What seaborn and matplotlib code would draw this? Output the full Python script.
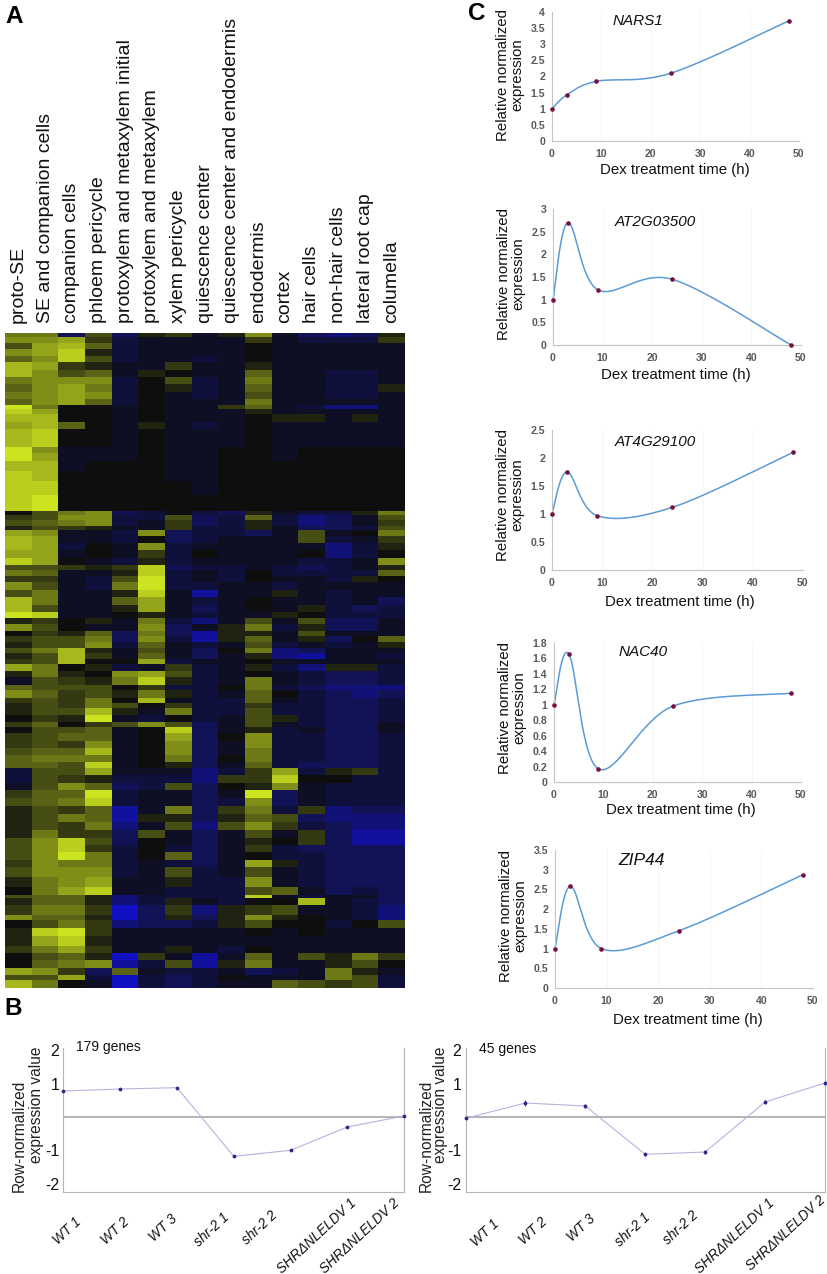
import numpy as np
import pandas as pd
import seaborn as sns
import matplotlib.pyplot as plt
from matplotlib.colors import LinearSegmentedColormap

# panel A: tissue columns, one row per visible band of genes
tissues = ["proto-SE", "SE and companion cells", "companion cells", "phloem pericycle",
           "protoxylem and metaxylem initial", "protoxylem and metaxylem", "xylem pericycle",
           "quiescence center", "quiescence center and endodermis", "endodermis", "cortex",
           "hair cells", "non-hair cells", "lateral root cap", "columella"]

band_genes = [4, 6, 6, 7, 6, 8, 7, 7, 8, 7, 6,
              4, 5, 8, 7, 9, 9, 6, 8, 10, 10, 14, 15,
              4, 5, 6, 4, 6, 7, 7, 8, 7, 5, 6, 6, 8, 7, 8, 7, 6, 6, 7, 5, 6, 6, 5, 6, 5,
              7, 6, 8, 5, 8, 5, 5, 7, 7, 5, 6, 8, 7, 7, 7, 6, 7, 8, 7, 8, 8, 8, 8, 7, 8, 7, 7, 8, 7,
              10, 10, 8, 3, 7, 10, 5, 8, 8, 10, 7, 7, 8, 7, 5, 8]

band_levels = [
    [5, 5, -3, 3, -3, 1, 2, -1, 1, 6, -1, -3, -4, -3, 1],
    [6, 6, 7, 2, -2, -1, -1, -1, -1, 2, -1, -2, -2, -2, 2],
    [3, 7, 8, 4, -2, -1, -1, -1, -1, 0, -1, -1, -1, -1, -1],
    [6, 7, 9, 1, -2, -1, -1, -1, -1, 0, -1, -1, -1, -1, -1],
    [4, 6, 9, 3, -2, -1, -1, -2, -1, 0, -1, -1, -1, -1, -1],
    [8, 7, 2, 1, -1, -1, 2, -1, -1, 1, -1, -1, -1, -1, -1],
    [8, 6, 3, 4, -1, 1, 0, -1, -1, 4, -1, -1, -2, -2, -1],
    [5, 6, 6, 6, -2, 0, 3, -2, -1, 5, -1, -1, -2, -2, -1],
    [4, 6, 7, 5, -2, 0, 1, -2, -1, 4, -1, -1, -2, -2, 1],
    [5, 6, 7, 6, -2, 0, -1, -2, -1, 3, -1, -1, -2, -2, -1],
    [4, 6, 7, 4, -2, 0, -1, -1, -1, 5, -1, -1, -1, -1, -1],
    [10, 5, 0, 0, -1, 0, -1, -1, 2, 4, -1, -2, -4, -4, -1],
    [9, 7, 0, 0, -1, 0, -1, -1, -1, 1, -1, -1, -1, -1, -1],
    [8, 8, 0, 0, -1, 0, -1, -1, -1, 0, 1, 1, -1, 1, -1],
    [7, 8, 4, 0, -1, 1, -1, -2, -1, 0, -1, -1, -1, -1, -1],
    [8, 9, 0, 0, -1, 0, -1, -1, -1, 0, -1, -1, -1, -1, -1],
    [8, 9, 0, 0, -1, 0, -1, -1, -1, 0, -1, -1, -1, -1, -1],
    [10, 6, -1, -1, -1, 0, -1, -1, 0, 0, -1, 0, 0, 0, 0],
    [10, 7, -1, -1, -1, 0, -1, -1, 0, 0, -1, 0, 0, 0, 0],
    [8, 8, -1, 0, 0, 0, -1, -1, 0, 0, 0, 0, 0, 0, 0],
    [9, 8, 0, 0, 0, 0, -1, -1, 0, 0, 0, 0, 0, 0, 0],
    [9, 9, 0, 0, 0, 0, 0, -1, 0, 0, 0, 0, 0, 0, 0],
    [9, 10, 0, 0, 0, 0, 0, 0, 0, 0, 0, 0, 0, 0, 0],
    [0, 3, 5, 6, -3, -2, 0, -2, -3, 1, -1, -2, -2, 1, 5],
    [2, 3, 6, 6, -2, -2, 3, -3, -2, 4, -2, -4, -3, -1, 3],
    [3, 4, 5, 6, -2, -1, 2, -3, -2, 1, -2, -4, -3, -1, 2],
    [1, 3, 2, 1, -1, -1, 2, -2, -2, 1, -1, -3, -3, -2, 3],
    [7, 6, -1, -1, -2, 6, -3, -2, -2, -3, -1, 3, -1, 0, 5],
    [8, 7, -1, -1, -2, 0, -3, -2, -1, -1, -1, 3, -2, -1, 2],
    [8, 7, -2, 0, -1, 6, -2, -1, -1, -1, -1, -1, -4, -2, 1],
    [7, 7, -1, 0, -1, 2, -2, 0, -1, -1, -1, 0, -4, -2, 0],
    [9, 7, 0, -1, -2, 1, -2, -1, -1, -1, -1, -2, -2, -1, 6],
    [3, 3, 2, 1, 2, 9, -3, -2, -2, -1, -2, -3, -2, -1, 1],
    [5, 4, -1, -1, 1, 9, -2, -1, -2, 0, -2, -2, -2, -2, 4],
    [2, 2, -1, -2, 3, 10, -2, -1, -2, 0, -1, -1, -2, 1, 0],
    [6, 3, -1, -2, 5, 10, -2, -2, -1, -1, -2, -1, -1, -1, -1],
    [3, 5, -1, -1, 1, 9, -1, -5, -1, -1, 1, -1, -2, -1, -1],
    [8, 5, -1, -1, 4, 7, -1, -2, -1, 0, -1, -1, -2, -1, -3],
    [8, 3, -1, -1, 1, 7, -1, -3, -1, 0, -1, 1, -2, -3, -2],
    [10, 9, -1, -1, 0, 1, -1, -2, -1, -1, 1, 0, -2, -2, -2],
    [1, 2, 0, 1, -1, 5, -2, -4, -1, 3, -1, 3, -3, -3, -1],
    [6, 3, 0, -1, -1, 6, -3, -1, 1, 5, -2, 1, -3, -3, -1],
    [0, 2, 1, 4, -3, 5, -3, -5, 1, 1, -1, 3, -1, -1, -1],
    [2, 3, 3, 5, -3, 6, -2, -5, 1, 4, -1, 1, -3, 0, 4],
    [1, 3, 3, 6, -2, 4, -1, -2, -1, 3, -2, -1, -2, -1, 1],
    [3, 5, 8, 1, -1, 3, -1, -3, 0, 5, -4, -3, -1, -1, -1],
    [1, 3, 8, 2, -1, 4, -1, -3, -1, 1, -4, -5, -1, -1, -2],
    [2, 3, 8, 0, 0, 7, -2, -1, -1, 0, -1, -1, -1, -1, -1],
    [7, 5, 0, 1, -2, -1, 2, -2, -1, 1, -2, -4, 1, 1, -2],
    [1, 5, 1, 0, 6, 7, 3, -2, -1, 0, -1, -2, -3, -3, -2],
    [-1, 3, 2, 1, 5, 9, 1, -2, -1, 5, -1, -2, -3, -3, -2],
    [4, 3, 3, 3, 0, 2, -2, -2, 0, 5, -2, -3, -4, -4, -4],
    [6, 4, 2, 3, 1, 5, 1, -2, -1, 4, 0, -2, -3, -4, -3],
    [2, 3, 2, 5, 0, 8, -1, -2, -2, 4, -1, -2, -3, -3, -2],
    [1, 3, 2, 5, 3, 0, 2, -2, -2, 2, -2, -2, -3, -3, -2],
    [1, 3, 3, 8, 1, -1, 5, -2, -2, 3, -2, -2, -3, -3, -2],
    [0, 2, 1, 10, -1, -2, 0, -2, -1, 3, 1, -2, -3, -3, -2],
    [2, 4, 0, 2, 3, 6, 3, -3, -1, 3, -1, -2, -3, -3, -1],
    [0, 3, 3, 4, -1, 0, 9, -3, -1, 1, -2, -1, -3, -3, -1],
    [2, 3, 4, 4, -1, 0, 7, -3, 0, 6, -2, -2, -3, -3, -2],
    [2, 3, 2, 6, -1, 0, 6, -3, -1, 6, -2, -2, -3, -3, -2],
    [3, 4, 4, 8, -1, 0, 6, -3, -1, 5, -2, -2, -3, -3, -2],
    [4, 5, 5, 5, -1, 0, 5, -3, 0, 5, -2, -2, -3, -3, -2],
    [4, 4, 3, 9, -1, 0, 1, -3, -1, 4, -2, -3, -3, -3, -2],
    [-2, 3, 3, 7, -1, -1, -1, -4, -2, 2, 7, -2, 1, 2, -2],
    [-2, 3, 2, 1, -2, -2, -2, -4, 2, 2, 9, 0, 0, -2, -2],
    [-1, 3, 6, 4, -3, -2, 3, -3, 0, 1, 6, -1, -2, -2, -2],
    [2, 4, 4, 10, -2, -1, -1, -3, -1, 10, -3, -1, -2, -2, -2],
    [3, 4, 5, 9, -2, -1, -1, -3, -2, 6, -3, -1, -2, -2, -2],
    [1, 3, 2, 4, -5, -1, 5, -3, 2, 5, -2, 2, -4, -3, -3],
    [1, 3, 5, 4, -5, 1, 1, -3, 1, 4, 3, -3, -4, -4, -4],
    [1, 3, 2, 5, -4, -1, 3, -4, 3, 6, 2, -2, -3, -4, -4],
    [1, 5, 2, 2, -3, 3, -1, -3, -1, 3, -1, 2, -3, -5, -5],
    [3, 6, 9, 3, -3, 0, -1, -3, -1, 1, 0, 2, -3, -5, -5],
    [3, 6, 9, 2, -2, 0, -2, -3, -1, 2, -2, -3, -3, -3, -3],
    [3, 6, 10, 5, -2, 0, 4, -3, -1, 0, -2, -2, -3, -3, -3],
    [2, 6, 5, 5, -2, -1, -2, -3, -1, 7, 1, -2, -3, -3, -3],
    [3, 6, 6, 6, -2, -1, 3, -2, -1, 3, -1, -2, -3, -3, -3],
    [1, 5, 6, 7, -1, -1, 1, -2, -2, 6, -1, -2, -3, -3, -3],
    [0, 5, 7, 9, -1, -1, -2, -2, -2, 3, 4, -1, -3, -2, -3],
    [3, 4, 4, 1, -4, -2, -2, -2, -2, 9, -1, -2, -1, -1, -3],
    [1, 4, 4, 1, -4, -2, 1, -1, -2, 0, 0, 8, -1, -2, -3],
    [2, 5, 5, 2, -6, -3, 2, -4, 1, 2, 3, -1, -1, -2, -4],
    [6, 4, 4, 1, -6, -3, 1, -3, 1, 6, 1, 0, -1, -2, -4],
    [0, 3, 5, 2, -4, -3, -3, -2, 1, 3, 0, 0, -2, 0, 3],
    [1, 9, 10, 2, -1, -1, -1, -1, -1, 0, -1, 0, -1, -1, -1],
    [1, 7, 9, 1, -1, -1, -1, -1, -1, -1, -1, -1, -1, -1, -1],
    [2, 5, 7, 2, -1, -1, 1, -1, -2, 0, -1, -1, -1, -1, -1],
    [0, 3, 4, 1, -6, 2, -1, -5, -1, 4, -1, 3, 1, 5, 2],
    [0, 4, 5, 6, -5, -2, 3, -5, 1, 5, -1, -1, 1, 3, 0],
    [7, 6, 2, -3, 4, -1, -2, -2, -1, -3, -2, -1, 5, 1, -1],
    [3, 3, 7, -2, -6, -2, -3, -2, 0, -1, -1, -1, 5, 3, -2],
    [8, 5, 0, -1, -6, -2, -3, -2, -1, -1, 4, 3, 2, 3, -2],
]

# panel B
samples = ["WT 1", "WT 2", "WT 3", "shr-2 1", "shr-2 2", "SHR\u0394NLELDV 1", "SHR\u0394NLELDV 2"]
genes_179 = [0.78, 0.84, 0.88, -1.18, -1.0, -0.3, 0.03]
errors_179 = [0.03, 0.03, 0.03, 0.02, 0.02, 0.03, 0.03]
genes_45 = [-0.04, 0.42, 0.33, -1.12, -1.05, 0.45, 1.02]
errors_45 = [0.07, 0.1, 0.07, 0.05, 0.05, 0.07, 0.1]

# panel C
hours = [0, 3, 9, 24, 48]
nars1 = [1, 1.43, 1.85, 2.1, 3.73]
at2g03500 = [1, 2.7, 1.22, 1.45, 0]
at4g29100 = [1, 1.75, 0.97, 1.12, 2.1]
nac40 = [1, 1.66, 0.17, 0.98, 1.15]
zip44 = [1, 2.58, 1, 1.45, 2.87]

W, H = 827, 1274

sns.set_theme(style="white")
plt.rcParams["font.family"] = "Liberation Sans"

fig = plt.figure(figsize=(W / 100, H / 100), dpi=100)


def px_axes(left, top, right, bottom):
    return fig.add_axes([left / W, 1 - bottom / H, (right - left) / W, (bottom - top) / H])


def px_text(x, y, s, **kw):
    fig.text(x / W, 1 - y / H, s, **kw)


def smooth(xs, ys, n=40):
    # same kind of smoothing a spreadsheet applies to a line chart
    pts = np.column_stack([xs, ys]).astype(float)
    pts = np.vstack([pts[0], pts, pts[-1]])
    out = []
    t = np.linspace(0, 1, n)[:, None]
    for i in range(1, len(pts) - 2):
        p0, p3 = pts[i], pts[i + 1]
        p1 = p0 + (pts[i + 1] - pts[i - 1]) / 6
        p2 = p3 - (pts[i + 2] - pts[i]) / 6
        out.append((1 - t) ** 3 * p0 + 3 * (1 - t) ** 2 * t * p1 + 3 * (1 - t) * t ** 2 * p2 + t ** 3 * p3)
    return np.vstack(out)


# A - heatmap
heat_cmap = LinearSegmentedColormap.from_list("heat", [
    (0, (0.06, 0.06, 0.90)),
    (4 / 17, (0.07, 0.07, 0.34)),
    (6 / 17, (0.055, 0.055, 0.14)),
    (7 / 17, (0.055, 0.055, 0.06)),
    (1, (0.80, 0.89, 0.12)),
])
heat_df = pd.DataFrame(np.repeat(np.array(band_levels), band_genes, axis=0), columns=tissues)
ax = px_axes(5, 333, 405, 988)
sns.heatmap(heat_df, ax=ax, cmap=heat_cmap, vmin=-7, vmax=10, cbar=False, yticklabels=False)
ax.xaxis.tick_top()
ax.set_xticklabels(tissues, rotation=90, fontsize=14, color="#111111")
ax.tick_params(axis="x", length=0, pad=7)
ax.set_ylabel("")

px_text(5, 23, "A", fontsize=17.5, fontweight="bold", color="black")
px_text(4, 1015, "B", fontsize=17.5, fontweight="bold", color="black")
px_text(468, 20, "C", fontsize=17.5, fontweight="bold", color="black")

# B - profile plots
b_panels = [
    (63.5, 404, genes_179, errors_179, "179 genes", 76, 1047, 19.5, 37,
     [79, 127, 175, 227, 275, 354, 397], [1220, 1220, 1217, 1215, 1213, 1201, 1201]),
    (465.5, 825, genes_45, errors_45, "45 genes", 479, 1049, 426, 440,
     [497, 545, 593, 648, 696, 772, 823], [1222, 1220, 1217, 1215, 1213, 1201, 1198]),
]
for left, right, vals, errs, note, note_x, note_y, row_x, expr_x, end_x, end_y in b_panels:
    ax = px_axes(left, 1048, right, 1192)
    xs = np.arange(len(samples))
    sns.lineplot(x=xs, y=vals, ax=ax, color="#bfaee0", linewidth=0.8, clip_on=False)
    ax.errorbar(xs, vals, yerr=errs, fmt="none", ecolor="#2a2a90", elinewidth=0.8, capsize=0, clip_on=False)
    ax.scatter(xs, vals, s=3, color="#2a2a90", zorder=3, clip_on=False)
    ax.axhline(0, color="#a8a8a8", linewidth=1.2, zorder=0)
    ax.set_xlim(0, 6)
    ax.set_ylim(-2.25, 2.07)
    ax.set_yticks([-2, -1, 1, 2])
    ax.set_yticklabels(["-2", "-1", "1", "2"], fontsize=11.5)
    ax.set_xticks(xs)
    ax.set_xticklabels([])
    ax.tick_params(axis="y", length=0, pad=3, colors="#111111")
    ax.tick_params(axis="x", length=2, width=0.6, direction="in", color="#999999")
    for side in ["left", "right", "bottom"]:
        ax.spines[side].set_color("#b5b5b5")
        ax.spines[side].set_linewidth(0.8)
    ax.spines["top"].set_visible(False)
    for name, x, y in zip(samples, end_x, end_y):
        # labels drift left of their ticks in the reference, so they sit on their own
        px_text(x, y, name, fontsize=9.8, style="italic", rotation=43, ha="right", va="center",
                rotation_mode="anchor", color="#111111")
    px_text(note_x, note_y, note, fontsize=10, va="center", color="#111111")
    px_text(row_x, 1136, "Row-normalized", fontsize=11.2, rotation=90, ha="center", va="center", color="#222222")
    px_text(expr_x, 1105, "expression value", fontsize=11.2, rotation=90, ha="center", va="center", color="#222222")

# C - qPCR time courses
c_panels = [
    (nars1, "NARS1", 552, 799, 12, 141, 4, np.arange(0, 4.1, 0.5), 638, 25, 11, 675, 170, 75),
    (at2g03500, "AT2G03500", 553, 801, 209, 345, 3, np.arange(0, 3.1, 0.5), 655, 226, 11, 676, 375, 274),
    (at4g29100, "AT4G29100", 552, 803, 430, 570, 2.5, np.arange(0, 2.6, 0.5), 655, 446, 11, 680, 602, 495),
    (nac40, "NAC40", 554, 801, 643, 782, 1.8, np.arange(0, 1.81, 0.2), 643, 656, 11, 681, 810, 708),
    (zip44, "ZIP44", 555, 813, 850, 988, 3.5, np.arange(0, 3.6, 0.5), 642, 865, 12.5, 688, 1020, 916),
]
for vals, gene, left, right, top, bottom, ymax, yticks, gene_x, gene_y, gene_size, dex_x, dex_y, rel_y in c_panels:
    ax = px_axes(left, top, right, bottom)
    curve = smooth(hours, vals)
    sns.lineplot(x=curve[:, 0], y=curve[:, 1], ax=ax, sort=False, estimator=None,
                 color="#5b9bd5", linewidth=1.1, clip_on=False)
    sns.scatterplot(x=hours, y=vals, ax=ax, color="#7a1040", s=11, linewidth=0, zorder=3, clip_on=False)
    ax.set_xlim(0, 50)
    ax.set_ylim(0, ymax)
    ax.set_xticks(range(0, 51, 10))
    ax.set_yticks(yticks)
    ax.set_yticklabels([f"{t:g}" for t in yticks])
    ax.tick_params(axis="y", length=0, labelsize=7.6, labelcolor="#595959", pad=5)
    ax.tick_params(axis="x", length=0, labelsize=7.6, labelcolor="#595959", pad=6)
    for t in ax.get_xticklabels() + ax.get_yticklabels():
        t.set_fontweight("bold")
    ax.grid(axis="x", color="#f4f4f4", linewidth=0.6)
    for side in ["top", "right"]:
        ax.spines[side].set_visible(False)
    for side in ["left", "bottom"]:
        ax.spines[side].set_color("#c4c4c4")
        ax.spines[side].set_linewidth(0.8)
    px_text(gene_x, gene_y, gene, fontsize=gene_size, style="italic", ha="center", color="#111111")
    px_text(dex_x, dex_y, "Dex treatment time (h)", fontsize=10.8, ha="center", va="center", color="#111111")
    px_text(left - 42, rel_y, "Relative normalized\nexpression", fontsize=10.8, rotation=90,
            ha="center", va="center", linespacing=1.05, color="#111111")

fig.savefig("out.png", dpi=100)
